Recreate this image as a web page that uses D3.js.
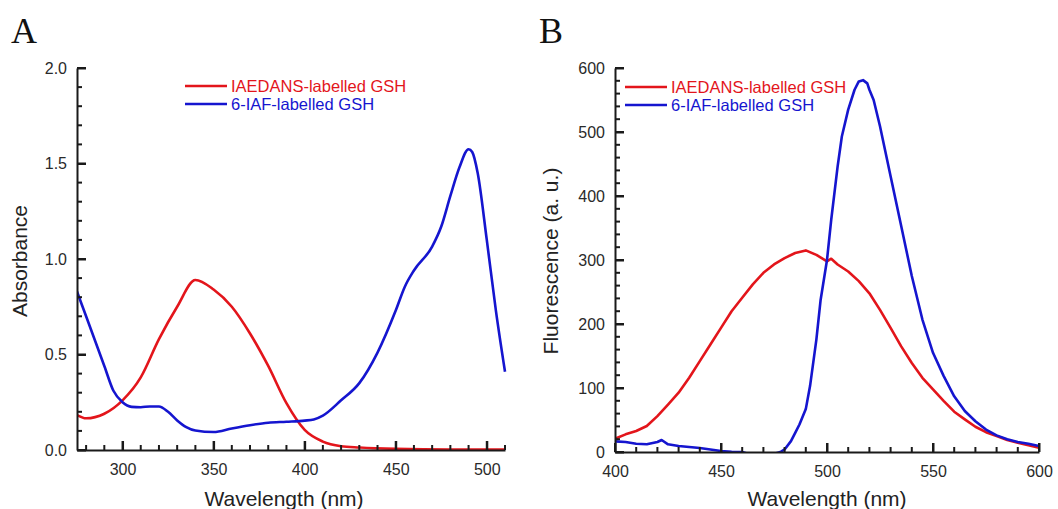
<!DOCTYPE html>
<meta charset="utf-8">
<head>
  <title>Absorbance and fluorescence spectra</title>
  <script src="https://d3js.org/d3.v7.min.js"></script>
  <style>
    body { margin: 0; background: #fff; }
    text { font-family: "Liberation Sans", Arial, sans-serif; fill: #222; }
    .axis path, .axis line { stroke: #1a1a1a; stroke-width: 2px; }
    .axis text { font-size: 16px; fill: #2a2a2a; }
    .tick-mark { stroke: #1a1a1a; stroke-width: 2px; }
    .title { font-size: 21px; }
    .panel { font-family: "Liberation Serif", "Times New Roman", serif; font-size: 36px; fill: #111; }
    .legend text { font-size: 16.5px; }
    .spec { fill: none; stroke-width: 2.6px; stroke-linejoin: round; }
  </style>
</head>
<body>
<svg width="1058" height="509"></svg>
<script>
  // panel A: absorbance
  const absX_iaedans = [275, 280, 290, 300, 310, 320, 330, 340, 350, 360, 370, 380, 390, 400, 410, 420, 430, 450, 480, 510];
  const absY_iaedans = [0.183, 0.166, 0.19, 0.26, 0.38, 0.58, 0.75, 0.89, 0.84, 0.75, 0.61, 0.44, 0.245, 0.105, 0.044, 0.02, 0.013, 0.006, 0.003, 0.003];
  const absX_iaf = [275, 280, 290, 295, 300, 305, 310, 315, 320, 325, 330, 335, 340, 350, 360, 370, 380, 390, 400, 405, 410, 420, 430, 440, 450, 455, 460, 470, 475, 480, 485, 490, 492, 495, 500, 505, 510];
  const absY_iaf = [0.83, 0.70, 0.44, 0.31, 0.25, 0.226, 0.224, 0.228, 0.228, 0.2, 0.155, 0.12, 0.102, 0.094, 0.113, 0.13, 0.143, 0.148, 0.154, 0.16, 0.18, 0.26, 0.35, 0.51, 0.73, 0.855, 0.94, 1.065, 1.17, 1.33, 1.48, 1.575, 1.56, 1.45, 1.10, 0.73, 0.41];

  // panel B: fluorescence
  const flX_iaedans = [400, 405, 410, 415, 420, 425, 430, 435, 440, 445, 450, 455, 460, 465, 470, 475, 480, 485, 490, 495, 500, 502, 505, 510, 515, 520, 525, 530, 535, 540, 545, 550, 555, 560, 565, 570, 575, 580, 585, 590, 595, 600];
  const flY_iaedans = [20.8, 27.6, 32.8, 40.6, 56, 74, 92.6, 116, 142, 168, 194, 220, 241, 262, 280, 293, 303, 311, 315, 308, 298, 302, 293, 282, 267, 248, 222, 194, 165, 139, 116, 98, 80, 63, 51, 39.5, 31, 25, 18.7, 14.6, 10.4, 6.8];
  const flX_iaf = [400, 405, 410, 415, 420, 422, 425, 430, 435, 440, 445, 450, 455, 460, 465, 470, 475, 478, 480, 483, 485, 487, 490, 492, 495, 497, 500, 502, 505, 507, 510, 513, 515, 517, 519, 520, 522, 525, 530, 535, 540, 545, 550, 555, 560, 565, 570, 575, 580, 585, 590, 595, 600];
  const flY_iaf = [16.6, 15.6, 13, 12, 15.6, 18.7, 12, 9.4, 7.8, 6.2, 4, 1.5, 0.5, 0, -5, -5, -3, 0, 4, 17, 30, 43, 67, 103, 176, 238, 300, 363, 446, 493, 535, 566, 579, 581, 576, 566, 550, 509, 431, 353, 275, 207, 155, 119, 87, 64, 48, 35, 26, 20, 15.6, 13, 9.4];

  const legendNames = ["IAEDANS-labelled GSH", "6-IAF-labelled GSH"];
  const colors = ["#e3151b", "#1515cf"];

  const svg = d3.select("svg");

  function panel(cfg) {
    const g = svg.append("g");
    const x = d3.scaleLinear().domain(cfg.xDomain).range([cfg.left, cfg.right]);
    const y = d3.scaleLinear().domain(cfg.yDomain).range([cfg.bottom, cfg.top]);

    const clipId = "clip" + cfg.label;
    g.append("clipPath").attr("id", clipId)
      .append("rect")
        .attr("x", cfg.left).attr("y", cfg.top - 2)
        .attr("width", cfg.right - cfg.left + 2)
        .attr("height", cfg.bottom - cfg.top + 2);

    const line = d3.line()
      .x(function(d) { return x(d[0]); })
      .y(function(d) { return y(d[1]); })
      .curve(cfg.curve);

    cfg.series.forEach(function(s, i) {
      g.append("path")
        .attr("class", "spec")
        .attr("clip-path", "url(#" + clipId + ")")
        .attr("stroke", colors[i])
        .attr("d", line(d3.zip(s[0], s[1])));
    });

    // axes: domain line + labels
    g.append("g").attr("class", "axis")
      .attr("transform", "translate(0," + cfg.bottom + ")")
      .call(d3.axisBottom(x).tickValues(cfg.xMajor).tickSize(-9).tickSizeOuter(0).tickPadding(14).tickFormat(d3.format("d")));
    g.append("g").attr("class", "axis")
      .attr("transform", "translate(" + cfg.left + ",0)")
      .call(d3.axisLeft(y).tickValues(cfg.yMajor).tickSize(-9).tickSizeOuter(0).tickPadding(10).tickFormat(cfg.yFormat));

    // inward tick marks, drawn explicitly from the scales
    const tk = g.append("g");
    tk.selectAll(".xt").data(cfg.xMinor).enter().append("line")
      .attr("class", "tick-mark")
      .attr("x1", function(d) { return x(d); }).attr("x2", function(d) { return x(d); })
      .attr("y1", cfg.bottom)
      .attr("y2", function(d) { return cfg.bottom - (cfg.xMajor.indexOf(d) >= 0 ? 9 : 5); });
    tk.selectAll(".yt").data(cfg.yMinor).enter().append("line")
      .attr("class", "tick-mark")
      .attr("y1", function(d) { return y(d); }).attr("y2", function(d) { return y(d); })
      .attr("x1", cfg.left)
      .attr("x2", function(d) {
        const major = cfg.yMajor.some(function(m) { return Math.abs(m - d) < 1e-9; });
        return cfg.left + (major ? 9 : 5);
      });

    // legend
    const lg = g.append("g").attr("class", "legend");
    legendNames.forEach(function(name, i) {
      const ly = cfg.legendY + i * 18;
      lg.append("line")
        .attr("x1", cfg.legendX).attr("x2", cfg.legendX + 42)
        .attr("y1", ly).attr("y2", ly)
        .attr("stroke", colors[i]).attr("stroke-width", 2.6);
      lg.append("text")
        .attr("x", cfg.legendX + 46).attr("y", ly)
        .attr("dy", "0.35em")
        .style("fill", colors[i])
        .text(name);
    });

    // titles
    g.append("text").attr("class", "title")
      .attr("x", (cfg.left + cfg.right) / 2 + cfg.xTitleShift).attr("y", 506)
      .attr("text-anchor", "middle")
      .text("Wavelength (nm)");
    g.append("text").attr("class", "title")
      .attr("transform", "translate(" + cfg.yTitleX + "," + 261 + ") rotate(-90)")
      .attr("text-anchor", "middle")
      .text(cfg.yTitle);

    g.append("text").attr("class", "panel")
      .attr("x", cfg.labelX).attr("y", 43)
      .text(cfg.label);
  }

  panel({
    label: "A", labelX: 11,
    left: 77, right: 505, top: 68, bottom: 450,
    xDomain: [275, 510], yDomain: [0, 2],
    xMajor: [300, 350, 400, 450, 500],
    xMinor: d3.range(280, 511, 10),
    yMajor: [0, 0.5, 1.0, 1.5, 2.0],
    yMinor: d3.range(0, 21).map(function(i) { return i / 10; }),
    yFormat: d3.format(".1f"),
    curve: d3.curveMonotoneX,
    series: [[absX_iaedans, absY_iaedans], [absX_iaf, absY_iaf]],
    legendX: 185, legendY: 86,
    yTitle: "Absorbance", yTitleX: 27, xTitleShift: -7
  });

  panel({
    label: "B", labelX: 539,
    left: 615, right: 1039, top: 68, bottom: 452,
    xDomain: [400, 600], yDomain: [0, 600],
    xMajor: [400, 450, 500, 550, 600],
    xMinor: d3.range(400, 601, 10),
    yMajor: [0, 100, 200, 300, 400, 500, 600],
    yMinor: d3.range(0, 601, 20),
    yFormat: d3.format("d"),
    curve: d3.curveLinear,
    series: [[flX_iaedans, flY_iaedans], [flX_iaf, flY_iaf]],
    legendX: 625, legendY: 87,
    yTitle: "Fluorescence (a. u.)", yTitleX: 558, xTitleShift: 0
  });
</script>
</body>
